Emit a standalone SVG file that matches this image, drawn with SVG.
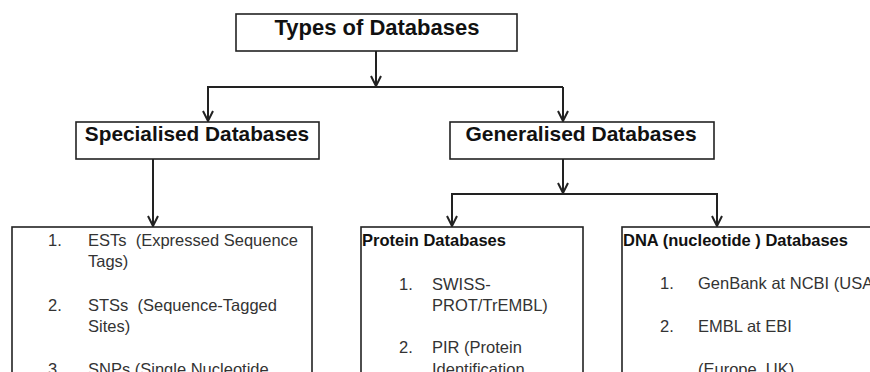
<svg xmlns="http://www.w3.org/2000/svg" width="870" height="372" viewBox="0 0 870 372">
<style>
.box{fill:#fff;stroke:#222;stroke-width:1.6}
.ln{fill:none;stroke:#222;stroke-width:2}
.h{font-family:"Liberation Sans",Arial,sans-serif;font-weight:bold;fill:#111}
.t{font-family:"Liberation Sans",Arial,sans-serif;font-size:16.5px;fill:#333}
.hs{font-size:16.5px}
</style>
<defs>
<marker id="ar" viewBox="0 0 12 12" refX="11" refY="6" markerWidth="12" markerHeight="12" markerUnits="userSpaceOnUse" orient="auto">
<path d="M1,1 L11,6 L1,11" fill="none" stroke="#222" stroke-width="2"/>
</marker>
</defs>
<rect width="870" height="372" fill="#fff"/>
<g id="connectors">
<path class="ln" d="M376,51 V86" marker-end="url(#ar)"/>
<path class="ln" d="M207,87 H563"/>
<path class="ln" d="M208,87 V121" marker-end="url(#ar)"/>
<path class="ln" d="M563,87 V121" marker-end="url(#ar)"/>
<path class="ln" d="M153,159 V226" marker-end="url(#ar)"/>
<path class="ln" d="M563,159 V193" marker-end="url(#ar)"/>
<path class="ln" d="M451,194 H718"/>
<path class="ln" d="M452,194 V226" marker-end="url(#ar)"/>
<path class="ln" d="M717,194 V226" marker-end="url(#ar)"/>
</g>
<g id="types">
<rect class="box" x="236" y="14" width="281" height="37"/>
<text class="h" x="377" y="35" font-size="22" text-anchor="middle">Types of Databases</text>
</g>
<g id="specialised">
<rect class="box" x="76" y="122" width="243" height="37"/>
<text class="h" x="197" y="141" font-size="20.8" text-anchor="middle">Specialised Databases</text>
</g>
<g id="generalised">
<rect class="box" x="450" y="122" width="264" height="37"/>
<text class="h" x="581" y="141" font-size="21" text-anchor="middle">Generalised Databases</text>
</g>
<g id="specialised-list">
<rect class="box" x="12" y="227" width="300" height="160"/>
<text class="t" x="48" y="246">1.</text>
<text class="t" x="88" y="246" xml:space="preserve">ESTs  (Expressed Sequence</text>
<text class="t" x="88" y="267">Tags)</text>
<text class="t" x="48" y="311">2.</text>
<text class="t" x="88" y="311" xml:space="preserve">STSs  (Sequence-Tagged</text>
<text class="t" x="88" y="332">Sites)</text>
<text class="t" x="48" y="375">3.</text>
<text class="t" x="88" y="375">SNPs (Single Nucleotide</text>
</g>
<g id="protein">
<rect class="box" x="361" y="227" width="222" height="160"/>
<text class="h hs" x="362" y="246">Protein Databases</text>
<text class="t" x="399" y="290">1.</text>
<text class="t" x="432" y="290">SWISS-</text>
<text class="t" x="432" y="311">PROT/TrEMBL)</text>
<text class="t" x="399" y="353">2.</text>
<text class="t" x="432" y="353">PIR (Protein</text>
<text class="t" x="432" y="375">Identification</text>
</g>
<g id="dna">
<rect class="box" x="622" y="227" width="270" height="160"/>
<text class="h hs" x="623" y="246">DNA (nucleotide ) Databases</text>
<text class="t" x="660" y="289">1.</text>
<text class="t" x="698" y="289">GenBank at NCBI (USA</text>
<text class="t" x="660" y="332">2.</text>
<text class="t" x="698" y="332">EMBL at EBI</text>
<text class="t" x="698" y="375">(Europe, UK)</text>
</g>
</svg>
